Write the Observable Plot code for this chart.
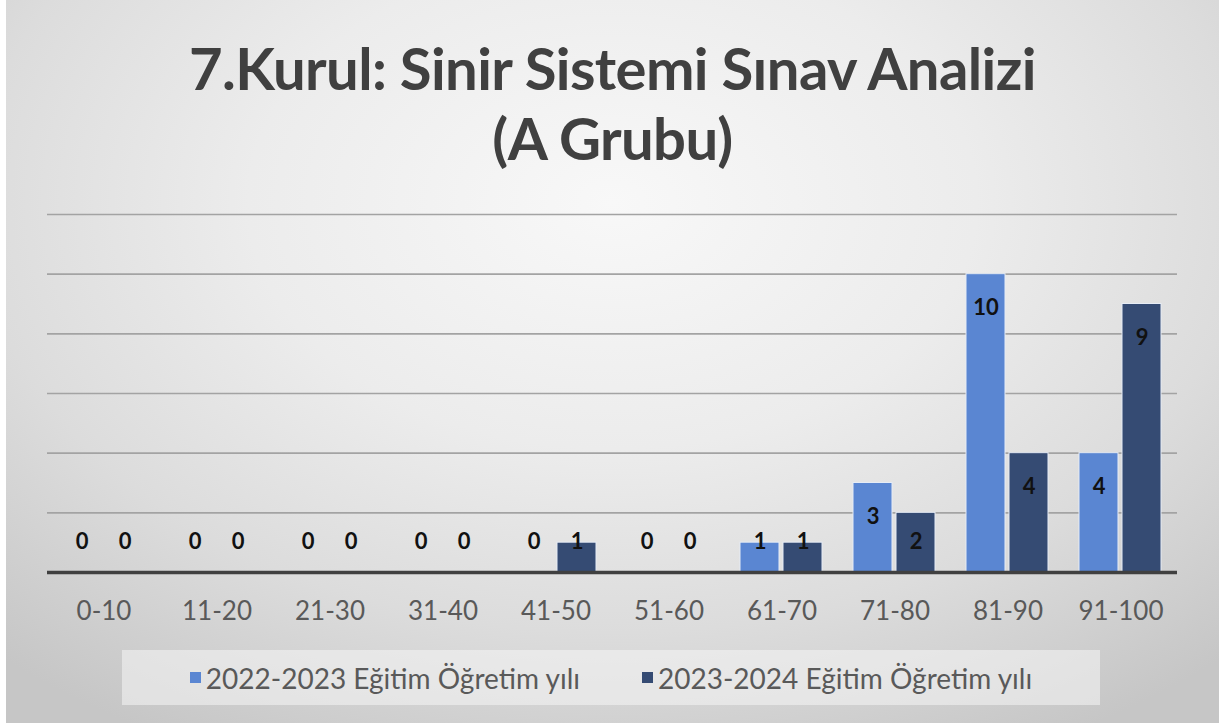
<!DOCTYPE html>
<html>
<head>
<meta charset="utf-8">
<script src="https://cdn.jsdelivr.net/npm/d3@7"></script>
<script src="https://cdn.jsdelivr.net/npm/@observablehq/plot@0.6"></script>
<style>
  html, body { margin: 0; padding: 0; background: #ffffff; }
  #frame {
    position: absolute; left: 6px; top: 0; width: 1213px; height: 723px; overflow: hidden;
    background: radial-gradient(ellipse 75% 85% at 50% 28%, #f8f8f8 0%, #ececec 40%, #dcdcdc 70%, #c6c6c6 100%);
  }
  #title {
    position: absolute; left: 0; top: 33px; width: 1213px; text-align: center;
    font-family: Lato, sans-serif; font-weight: 700; font-size: 58px; line-height: 70px; color: #404040;
    letter-spacing: -0.6px;
  }
  #chart { position: absolute; left: -6px; top: 190px; }
  #legend {
    position: absolute; left: 116px; top: 650px; width: 978px; height: 55px;
    background: rgba(245,245,245,0.55);
    display: flex; align-items: center; justify-content: center; gap: 62px;
    font-family: Lato, sans-serif; font-size: 28px; color: #595959;
  }
  .item { display: flex; align-items: center; }
  .sw { width: 11px; height: 11px; margin-right: 5px; }
</style>
</head>
<body>
<div id="frame">
  <div id="title">7.Kurul: Sinir Sistemi Sınav Analizi<br>(A Grubu)</div>
  <div id="chart"></div>
  <div id="legend"></div>
</div>
<script>
const categories = ["0-10", "11-20", "21-30", "31-40", "41-50", "51-60", "61-70", "71-80", "81-90", "91-100"];
const series = ["2022-2023 Eğitim Öğretim yılı", "2023-2024 Eğitim Öğretim yılı"];
const values2022 = [0, 0, 0, 0, 0, 0, 1, 3, 10, 4];
const values2023 = [0, 0, 0, 0, 1, 0, 1, 2, 4, 9];
const colors = ["#5a86d2", "#354b73"];
const gridTicks = [2, 4, 6, 8, 10, 12];

const data = categories.flatMap((c, i) => [
  {cat: c, series: series[0], value: values2022[i]},
  {cat: c, series: series[1], value: values2023[i]}
]);

const chart = Plot.plot({
  width: 1219,
  height: 442,
  marginLeft: 43,
  marginRight: 38,
  marginTop: 24,
  marginBottom: 60,
  style: {background: "transparent", fontFamily: "Lato, sans-serif", fontSize: "26px", color: "#595959", overflow: "visible"},
  fx: {domain: categories, padding: 0, label: null, axis: "bottom", tickSize: 0, tickPadding: 29},
  x: {domain: series, axis: null, paddingInner: 0.09, paddingOuter: 0.34},
  y: {domain: [0, 12], axis: null},
  color: {domain: series, range: colors},
  marks: [
    Plot.ruleY(gridTicks, {stroke: "#a3a3a3", strokeWidth: 1.6}),
    Plot.barY(data.filter(d => d.value > 0), {fx: "cat", x: "series", y: "value", fill: "series", stroke: "#e6ecf6", strokeWidth: 1}),
    Plot.ruleY([0], {stroke: "#404040", strokeWidth: 3.5}),
    Plot.text(data, {
      fx: "cat", x: "series",
      y: d => Math.max(d.value - 1.14, 1.04),
      text: d => String(d.value),
      fontWeight: "bold", fontSize: 22, fill: "#111111"
    })
  ]
});
document.getElementById("chart").appendChild(chart);

const legend = document.getElementById("legend");
series.forEach((s, i) => {
  const item = document.createElement("div");
  item.className = "item";
  const sw = document.createElement("span");
  sw.className = "sw";
  sw.style.background = colors[i];
  const label = document.createElement("span");
  label.textContent = s;
  item.appendChild(sw);
  item.appendChild(label);
  legend.appendChild(item);
});
</script>
</body>
</html>
